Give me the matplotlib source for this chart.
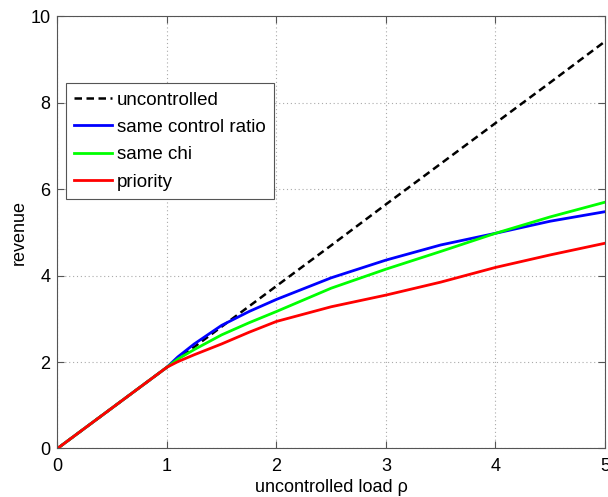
import matplotlib
matplotlib.use("Agg")
import matplotlib.pyplot as plt

rho = [0, 1.0, 1.1, 1.25, 1.5, 1.75, 2.0, 2.5, 3.0, 3.5, 4.0, 4.5, 5.0]
uncontrolled = [0, 1.88, 2.07, 2.35, 2.82, 3.29, 3.76, 4.70, 5.65, 6.59, 7.53, 8.47, 9.42]
same_ratio = [0, 1.88, 2.12, 2.42, 2.85, 3.17, 3.45, 3.95, 4.36, 4.71, 4.98, 5.26, 5.48]
same_chi = [0, 1.88, 2.07, 2.29, 2.63, 2.91, 3.17, 3.71, 4.15, 4.56, 4.98, 5.36, 5.70]
priority = [0, 1.88, 2.01, 2.17, 2.42, 2.69, 2.94, 3.28, 3.55, 3.85, 4.19, 4.48, 4.75]

xticks = [0, 1, 2, 3, 4, 5]
yticks = [0, 2, 4, 6, 8, 10]

plt.rcParams['font.family'] = ['Liberation Sans', 'DejaVu Sans']
FS = 13

fig = plt.figure(figsize=(6.08, 4.97), dpi=100)
ax = fig.add_axes([0.0944, 0.0976, 0.9006, 0.8694])

ax.plot(rho, uncontrolled, color='black', lw=1.8, ls=(0, (3, 1.8)), label='uncontrolled')
ax.plot(rho, same_ratio, color='#0000ff', lw=2, label='same control ratio')
ax.plot(rho, same_chi, color='#00ff00', lw=2, label='same chi')
ax.plot(rho, priority, color='#ff0000', lw=2, label='priority')

ax.set_xlim(0, 5)
ax.set_ylim(0, 10)
ax.set_xticks(xticks)
ax.set_yticks(yticks)
ax.grid(True, ls=(0, (1, 2.5)), color='#aaaaaa', lw=0.8)
ax.tick_params(direction='in', top=True, right=True, length=5, color='#555555', labelsize=FS)
ax.tick_params(axis='x', pad=7)
ax.tick_params(axis='y', pad=5)
for s in ax.spines.values():
    s.set_color('#555555')
    s.set_linewidth(0.8)

ax.set_xlabel('uncontrolled load ρ', fontsize=FS, labelpad=3)
ax.set_ylabel('revenue', fontsize=FS, labelpad=2)

leg = ax.legend(loc='upper left', bbox_to_anchor=(0.0157, 0.846), fancybox=False,
                framealpha=1, edgecolor='#555555', handlelength=2.0, handletextpad=0.25,
                labelspacing=0.55, borderpad=0.45, borderaxespad=0, fontsize=13.5)
leg.get_frame().set_linewidth(0.8)

fig.savefig('out.png', dpi=100)
